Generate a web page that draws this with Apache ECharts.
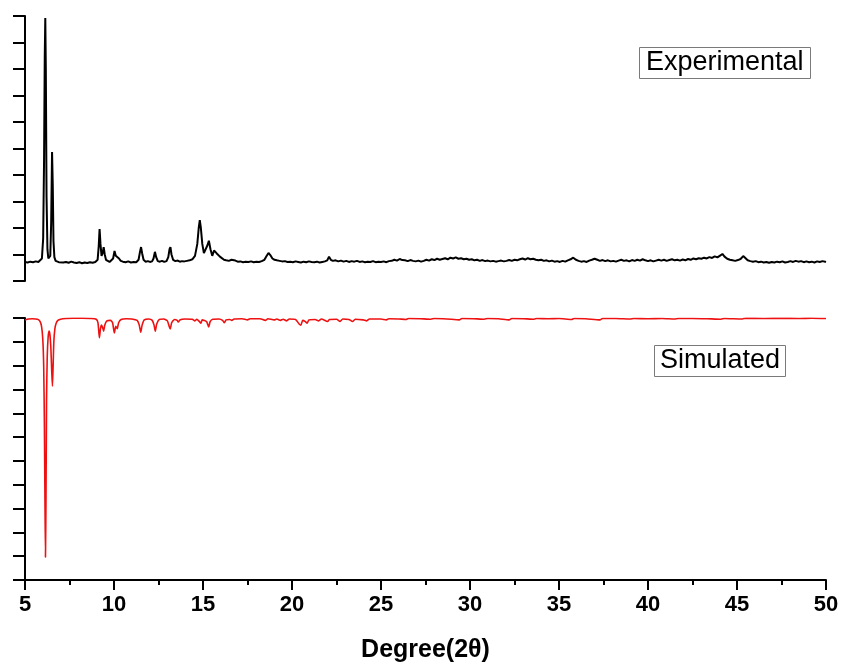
<!DOCTYPE html>
<html><head><meta charset="utf-8">
<script src="https://cdn.jsdelivr.net/npm/echarts@6/dist/echarts.min.js"></script>
<style>html,body{margin:0;padding:0;background:#fff}#c{width:844px;height:669px}</style>
</head><body><div id="c"></div>
<script>
var xTicks = [5, 10, 15, 20, 25, 30, 35, 40, 45, 50];
var xAxisTitle = 'Degree(2θ)';
var labelExp = 'Experimental';
var labelSim = 'Simulated';

// Experimental pattern: [2θ, intensity]
var experimental = [
[5.00,0.72],[5.15,0.70],[5.30,0.73],[5.45,0.71],[5.60,0.74],[5.75,0.72],[5.85,0.75],[5.95,0.85],[6.02,1.6],[6.07,4.5],
[6.11,8.5],[6.14,9.92],[6.17,8.0],[6.21,3.2],[6.26,1.2],[6.31,0.85],[6.36,0.78],[6.42,0.95],[6.47,2.2],[6.52,4.87],
[6.56,3.6],[6.60,1.5],[6.65,0.9],[6.72,0.76],[6.80,0.73],[6.90,0.71],[7.00,0.74],[7.15,0.70],[7.30,0.72],[7.45,0.69],
[7.60,0.73],[7.75,0.70],[7.90,0.68],[8.05,0.71],[8.20,0.67],[8.35,0.70],[8.50,0.68],[8.65,0.71],[8.80,0.69],[8.95,0.72],
[9.08,0.80],[9.14,1.3],[9.19,1.96],[9.24,1.4],[9.30,0.95],[9.36,1.05],[9.42,1.28],[9.48,1.0],[9.55,0.80],[9.65,0.74],
[9.75,0.72],[9.85,0.75],[9.95,0.85],[10.03,1.13],[10.10,0.95],[10.20,1.0],[10.28,0.85],[10.38,0.76],[10.50,0.73],[10.65,0.71],
[10.80,0.74],[10.95,0.70],[11.10,0.72],[11.25,0.71],[11.38,0.80],[11.46,1.1],[11.52,1.28],[11.58,1.05],[11.66,0.80],[11.78,0.73],
[11.90,0.75],[12.02,0.72],[12.14,0.74],[12.22,0.85],[12.30,1.1],[12.37,0.90],[12.46,0.75],[12.58,0.73],[12.70,0.76],[12.82,0.72],
[12.95,0.75],[13.05,0.90],[13.12,1.2],[13.17,1.28],[13.23,1.0],[13.32,0.80],[13.45,0.75],[13.58,0.77],[13.70,0.73],[13.82,0.75],
[13.95,0.74],[14.10,0.76],[14.25,0.78],[14.40,0.82],[14.55,0.95],[14.68,1.4],[14.76,2.0],[14.82,2.3],[14.88,2.0],[14.96,1.4],
[15.05,1.05],[15.15,1.05],[15.25,1.35],[15.33,1.52],[15.42,1.2],[15.52,0.95],[15.62,1.15],[15.68,1.2],[15.76,1.05],[15.85,1.06],
[15.95,0.92],[16.05,0.86],[16.18,0.80],[16.30,0.78],[16.45,0.76],[16.60,0.80],[16.70,0.83],[16.82,0.77],[16.95,0.73],[17.10,0.74],
[17.25,0.71],[17.40,0.73],[17.55,0.72],[17.70,0.74],[17.85,0.71],[18.00,0.73],[18.15,0.72],[18.30,0.75],[18.45,0.80],[18.58,0.95],
[18.68,1.06],[18.78,0.98],[18.90,0.85],[19.02,0.80],[19.15,0.78],[19.30,0.76],[19.45,0.74],[19.60,0.75],[19.75,0.72],[19.90,0.73],
[20.05,0.71],[20.20,0.74],[20.35,0.72],[20.50,0.70],[20.65,0.73],[20.80,0.71],[20.95,0.74],[21.10,0.72],[21.25,0.71],[21.40,0.73],
[21.55,0.70],[21.70,0.72],[21.85,0.74],[21.98,0.78],[22.08,0.92],[22.18,0.80],[22.30,0.76],[22.45,0.78],[22.60,0.74],[22.75,0.77],
[22.90,0.73],[23.05,0.76],[23.20,0.72],[23.35,0.75],[23.50,0.73],[23.65,0.76],[23.80,0.72],[23.95,0.74],[24.10,0.71],[24.25,0.73],
[24.40,0.72],[24.55,0.75],[24.70,0.71],[24.85,0.73],[25.00,0.72],[25.15,0.74],[25.30,0.71],[25.45,0.75],[25.60,0.76],[25.75,0.80],
[25.90,0.77],[26.05,0.83],[26.20,0.79],[26.35,0.78],[26.50,0.75],[26.65,0.79],[26.80,0.76],[26.95,0.74],[27.10,0.77],[27.25,0.73],
[27.40,0.76],[27.55,0.80],[27.70,0.77],[27.85,0.82],[28.00,0.79],[28.15,0.84],[28.30,0.80],[28.45,0.83],[28.60,0.86],[28.75,0.82],
[28.90,0.88],[29.05,0.85],[29.20,0.89],[29.35,0.84],[29.50,0.86],[29.65,0.82],[29.80,0.84],[29.95,0.80],[30.10,0.82],[30.25,0.78],
[30.40,0.80],[30.55,0.76],[30.70,0.79],[30.85,0.75],[31.00,0.77],[31.15,0.74],[31.30,0.76],[31.45,0.73],[31.60,0.75],[31.75,0.77],
[31.90,0.74],[32.05,0.76],[32.20,0.79],[32.35,0.76],[32.50,0.80],[32.65,0.78],[32.80,0.82],[32.95,0.85],[33.10,0.81],[33.25,0.86],
[33.40,0.82],[33.55,0.84],[33.70,0.80],[33.85,0.78],[34.00,0.80],[34.15,0.76],[34.30,0.78],[34.45,0.74],[34.60,0.77],[34.75,0.73],
[34.90,0.75],[35.05,0.72],[35.20,0.76],[35.35,0.73],[35.50,0.78],[35.65,0.82],[35.80,0.88],[35.95,0.80],[36.10,0.76],[36.25,0.73],
[36.40,0.75],[36.55,0.72],[36.70,0.77],[36.85,0.80],[37.00,0.84],[37.15,0.80],[37.30,0.76],[37.45,0.79],[37.60,0.75],[37.75,0.78],
[37.90,0.74],[38.05,0.76],[38.20,0.73],[38.35,0.77],[38.50,0.80],[38.65,0.76],[38.80,0.78],[38.95,0.74],[39.10,0.79],[39.25,0.76],
[39.40,0.80],[39.55,0.77],[39.70,0.82],[39.85,0.78],[40.00,0.75],[40.15,0.78],[40.30,0.74],[40.45,0.77],[40.60,0.80],[40.75,0.77],
[40.90,0.80],[41.05,0.76],[41.20,0.79],[41.35,0.82],[41.50,0.78],[41.65,0.80],[41.80,0.77],[41.95,0.81],[42.10,0.78],[42.25,0.83],
[42.40,0.80],[42.55,0.85],[42.70,0.82],[42.85,0.86],[43.00,0.84],[43.15,0.88],[43.30,0.85],[43.45,0.90],[43.60,0.87],[43.75,0.93],
[43.90,0.89],[44.05,0.96],[44.18,1.02],[44.30,0.92],[44.45,0.84],[44.60,0.80],[44.75,0.78],[44.90,0.76],[45.05,0.79],[45.20,0.83],
[45.35,0.94],[45.45,0.88],[45.60,0.78],[45.75,0.75],[45.90,0.73],[46.05,0.75],[46.20,0.71],[46.35,0.73],[46.50,0.70],[46.65,0.72],
[46.80,0.69],[46.95,0.72],[47.10,0.70],[47.25,0.73],[47.40,0.71],[47.55,0.74],[47.70,0.70],[47.85,0.72],[48.00,0.75],[48.15,0.72],
[48.30,0.76],[48.45,0.73],[48.60,0.75],[48.75,0.71],[48.90,0.74],[49.05,0.71],[49.20,0.73],[49.35,0.70],[49.50,0.74],[49.65,0.72],
[49.80,0.75],[49.95,0.73],[50.00,0.72]
];

// Simulated pattern: [2θ, intensity] (drawn downward)
var simulated = [
[5.00,0.08],[5.20,0.04],[5.40,0.03],[5.60,0.04],[5.75,0.07],[5.85,0.15],[5.93,0.35],[6.00,0.9],[6.05,2.0],[6.09,4.5],
[6.12,7.5],[6.15,10.04],[6.18,7.5],[6.21,3.5],[6.25,1.6],[6.30,0.8],[6.35,0.55],[6.40,0.7],[6.45,1.2],[6.50,2.2],
[6.54,2.86],[6.58,2.0],[6.62,1.0],[6.68,0.45],[6.75,0.22],[6.85,0.1],[7.00,0.05],[7.30,0.02],[7.70,0.01],[8.20,0.01],
[8.70,0.02],[9.00,0.05],[9.10,0.2],[9.18,0.83],[9.24,0.45],[9.30,0.3],[9.36,0.4],[9.42,0.55],[9.48,0.3],[9.60,0.12],
[9.80,0.1],[9.92,0.2],[10.02,0.63],[10.10,0.35],[10.18,0.45],[10.26,0.2],[10.40,0.06],[10.70,0.03],[11.00,0.04],[11.30,0.1],
[11.42,0.3],[11.50,0.6],[11.58,0.3],[11.70,0.08],[11.95,0.04],[12.15,0.1],[12.25,0.3],[12.32,0.55],[12.40,0.25],[12.55,0.06],
[12.80,0.04],[13.00,0.12],[13.10,0.35],[13.16,0.46],[13.24,0.2],[13.40,0.06],[13.55,0.1],[13.62,0.17],[13.72,0.07],[14.00,0.04],
[14.40,0.05],[14.55,0.12],[14.65,0.05],[14.80,0.15],[14.88,0.22],[14.96,0.08],[15.20,0.15],[15.32,0.38],[15.40,0.15],[15.55,0.05],
[15.90,0.04],[16.10,0.1],[16.20,0.2],[16.30,0.08],[16.50,0.06],[16.62,0.1],[16.75,0.04],[17.20,0.03],[17.50,0.08],[17.65,0.03],
[18.20,0.03],[18.50,0.1],[18.65,0.03],[19.00,0.08],[19.15,0.04],[19.35,0.1],[19.50,0.05],[19.70,0.12],[19.85,0.04],[20.20,0.06],
[20.40,0.25],[20.50,0.3],[20.60,0.1],[20.75,0.15],[20.85,0.22],[20.95,0.08],[21.30,0.06],[21.50,0.12],[21.65,0.04],[22.00,0.15],
[22.10,0.06],[22.50,0.05],[22.70,0.14],[22.85,0.04],[23.20,0.06],[23.40,0.15],[23.55,0.05],[24.00,0.08],[24.20,0.12],[24.35,0.04],
[25.00,0.04],[25.30,0.08],[25.45,0.03],[26.00,0.04],[26.40,0.06],[26.55,0.02],[27.20,0.03],[27.80,0.05],[28.00,0.02],[28.70,0.04],
[29.40,0.08],[29.55,0.02],[30.20,0.03],[30.80,0.05],[31.00,0.02],[31.60,0.03],[32.20,0.08],[32.35,0.02],[33.00,0.03],[33.60,0.05],
[33.75,0.02],[34.40,0.03],[35.00,0.02],[35.70,0.06],[35.85,0.02],[36.50,0.03],[37.30,0.08],[37.45,0.02],[38.20,0.02],[39.00,0.04],
[39.20,0.02],[40.00,0.03],[40.80,0.02],[41.50,0.04],[41.70,0.02],[42.50,0.02],[43.30,0.03],[44.10,0.05],[44.30,0.02],[45.30,0.04],
[45.50,0.01],[46.50,0.02],[47.50,0.01],[48.50,0.02],[49.20,0.01],[50.00,0.02]
];

var chart = echarts.init(document.getElementById('c'), null, {renderer: 'canvas'});
var axisCol = '#000';
var fam = 'Liberation Sans, Arial, sans-serif';
function yAx(idx, max, inv) {
  return {
    type: 'value', gridIndex: idx, min: 0, max: max, interval: 1, inverse: inv,
    axisLine: {show: true, onZero: false, lineStyle: {color: axisCol, width: 2}},
    axisTick: {show: true, inside: false, length: 12, lineStyle: {color: axisCol, width: 2}},
    axisLabel: {show: false}, splitLine: {show: false}
  };
}
var boxText = {fontSize: 27, fontWeight: 'normal', fontFamily: fam, color: '#000', lineHeight: 30};
chart.setOption({
  animation: false,
  backgroundColor: '#fff',
  title: [
    {text: labelExp, left: 639, top: 47, padding: [1, 7], borderWidth: 1, borderColor: '#7a7a7a', textStyle: boxText},
    {text: labelSim, left: 654, top: 345, padding: [1, 6], borderWidth: 1, borderColor: '#7a7a7a', textStyle: boxText}
  ],
  grid: [
    {left: 25, top: 16, width: 801, height: 265},
    {left: 25, top: 318, width: 801, height: 262}
  ],
  xAxis: [
    {type: 'value', gridIndex: 0, min: 5, max: 50, show: false},
    {type: 'value', gridIndex: 1, min: 5, max: 50, interval: 5, position: 'bottom',
     axisLine: {show: true, onZero: false, lineStyle: {color: axisCol, width: 2}},
     axisTick: {show: true, length: 10, lineStyle: {color: axisCol, width: 2}},
     minorTick: {show: true, splitNumber: 2, length: 5, lineStyle: {color: axisCol, width: 2}},
     splitLine: {show: false}, minorSplitLine: {show: false},
     axisLabel: {fontSize: 22, fontWeight: 'bold', color: '#000', margin: 14, fontFamily: fam,
       formatter: function (v) { return xTicks.indexOf(v) >= 0 ? String(v) : ''; }},
     name: xAxisTitle, nameLocation: 'middle', nameGap: 58,
     nameTextStyle: {fontSize: 25, fontWeight: 'bold', color: '#000', fontFamily: fam}}
  ],
  yAxis: [yAx(0, 10, false), yAx(1, 11, true)],
  series: [
    {type: 'line', xAxisIndex: 0, yAxisIndex: 0, data: experimental, showSymbol: false,
     lineStyle: {color: '#000', width: 2}, silent: true},
    {type: 'line', xAxisIndex: 1, yAxisIndex: 1, data: simulated, showSymbol: false, smooth: 0.2,
     lineStyle: {color: '#ee1111', width: 1.6}, silent: true}
  ]
});
</script>
</body></html>
